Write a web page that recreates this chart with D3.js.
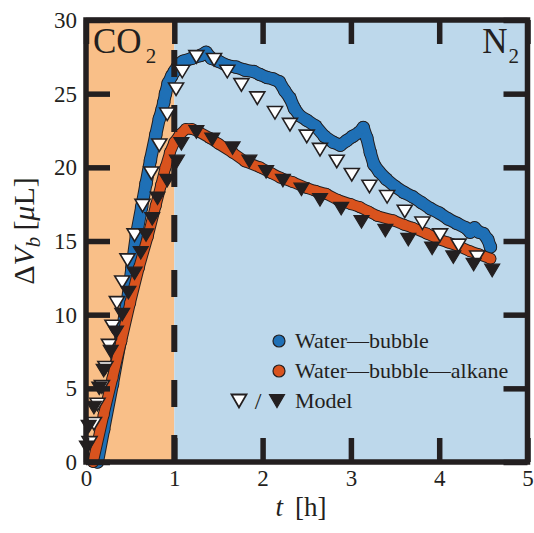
<!DOCTYPE html>
<html>
<head>
<meta charset="utf-8">
<script src="https://cdn.jsdelivr.net/npm/d3@7"></script>
<style>
  html, body { margin: 0; padding: 0; background: #fff; }
  svg { display: block; }
</style>
</head>
<body>
<div id="chart"></div>
<script>
// ---- data ----
const xTicks = [0, 1, 2, 3, 4, 5];
const yTicks = [0, 5, 10, 15, 20, 25, 30];
const gasLabels = ["CO", "N"];
const legendLabels = ["Water\u2014bubble", "Water\u2014bubble\u2014alkane", "Model"];

// experiment: water-bubble (t [h], ΔV [µL])
const bubbleT = [0.13,0.2,0.3,0.4,0.47,0.52,0.57,0.63,0.68,0.73,0.79,0.83,0.86,0.88,0.9,0.93,0.97,1.0,1.05,1.1,1.2,1.3,1.36,1.42,1.5,1.6,1.7,1.8,1.9,1.97,2.05,2.12,2.19,2.25,2.31,2.36,2.42,2.5,2.6,2.7,2.8,2.88,2.95,3.02,3.1,3.14,3.18,3.22,3.26,3.32,3.4,3.5,3.6,3.7,3.8,3.9,4.0,4.1,4.2,4.3,4.35,4.4,4.45,4.5,4.55,4.58];
const bubbleV = [0.0,2.2,5.3,8.6,11.0,13.2,15.4,17.3,18.9,20.5,22.2,23.3,23.9,24.4,25.0,25.7,26.2,26.5,27.0,27.2,27.4,27.6,27.8,27.4,27.2,26.9,26.8,26.6,26.5,26.3,26.1,26.0,25.8,25.2,24.7,24.0,23.5,23.2,22.8,22.1,21.7,21.5,21.8,22.1,22.4,22.7,22.0,21.0,20.2,19.7,19.2,18.7,18.3,18.0,17.6,17.2,16.9,16.5,16.2,15.9,15.6,15.9,15.6,15.5,15.1,14.6];

// experiment: water-bubble-alkane
const alkaneT = [0.08,0.2,0.3,0.4,0.5,0.6,0.7,0.79,0.85,0.9,0.95,1.0,1.06,1.13,1.2,1.28,1.4,1.5,1.66,1.8,1.97,2.1,2.2,2.34,2.5,2.6,2.72,2.85,3.0,3.1,3.2,3.3,3.48,3.6,3.7,3.86,4.0,4.1,4.24,4.35,4.45,4.58];
const alkaneV = [0.0,3.2,5.7,8.2,10.8,13.2,15.3,17.4,18.8,20.0,21.0,21.7,22.2,22.6,22.6,22.4,22.0,21.6,21.0,20.4,20.0,19.6,19.3,19.0,18.6,18.4,18.2,17.8,17.5,17.3,17.0,16.7,16.4,16.1,15.9,15.5,15.1,14.9,14.6,14.3,14.1,13.8];

// model: water-bubble (open triangles)
const modelBubbleT = [0.04,0.09,0.13,0.18,0.22,0.26,0.30,0.35,0.41,0.47,0.55,0.64,0.74,0.83,0.92,1.02,1.09,1.25,1.45,1.60,1.76,1.94,2.14,2.31,2.50,2.65,2.84,3.01,3.21,3.41,3.61,3.81,4.01,4.22,4.43];
const modelBubbleV = [1.3,2.6,3.9,5.1,6.4,7.9,9.2,10.8,12.2,13.7,15.4,17.4,19.6,21.5,23.6,25.3,26.5,27.5,27.3,26.5,25.6,24.7,23.7,22.9,22.1,21.2,20.4,19.5,18.7,18.0,17.0,16.2,15.4,14.7,13.9];

// model: water-bubble-alkane (filled triangles)
const modelAlkaneT = [0.01,0.03,0.09,0.15,0.20,0.28,0.34,0.41,0.48,0.55,0.62,0.68,0.75,0.81,0.92,1.03,1.08,1.25,1.43,1.66,1.85,2.04,2.23,2.44,2.65,2.89,3.12,3.39,3.65,3.92,4.16,4.39,4.60];
const modelAlkaneV = [1.0,2.4,3.7,5.0,6.2,7.5,8.8,10.0,11.5,12.8,14.2,15.4,16.5,17.9,19.1,20.4,21.6,22.4,21.9,21.3,20.4,19.7,19.1,18.5,17.8,17.2,16.3,15.7,15.1,14.5,13.9,13.4,13.0];

// ---- layout / style ----
const W = 534, H = 533;
const ink = "#231f20";
const blue = "#1f70b6", orange = "#d9531e";
const bgOrange = "#f9bf88", bgBlue = "#bdd8eb";
const serif = "'Liberation Serif', 'Times New Roman', serif";

const svg = d3.select("#chart").append("svg").attr("width", W).attr("height", H);

const x = d3.scaleLinear().domain([0, 5]).range([86, 527.5]);
const y = d3.scaleLinear().domain([0, 30]).range([462, 20]);

// background regions
svg.append("rect").attr("x", x(0)).attr("y", y(30)).attr("width", x(1) - x(0)).attr("height", y(0) - y(30)).attr("fill", bgOrange);
svg.append("rect").attr("x", x(1)).attr("y", y(30)).attr("width", x(5) - x(1)).attr("height", y(0) - y(30)).attr("fill", bgBlue);

// experimental bands
function band(ts, vs, color, wid) {
  const pts = ts.map((t, i) => [t, vs[i]]);
  const line = d3.line().x(d => x(d[0])).y(d => y(d[1]));
  const g = svg.append("g");
  g.append("path").attr("d", line(pts)).attr("fill", "none").attr("stroke", ink)
    .attr("stroke-width", wid + 2).attr("stroke-linejoin", "round").attr("stroke-linecap", "round");
  g.selectAll("circle.o").data(pts).join("circle").attr("class", "o")
    .attr("cx", d => x(d[0])).attr("cy", d => y(d[1])).attr("r", wid / 2 + 1.3).attr("fill", ink);
  g.append("path").attr("d", line(pts)).attr("fill", "none").attr("stroke", color)
    .attr("stroke-width", wid).attr("stroke-linejoin", "round").attr("stroke-linecap", "round");
  g.selectAll("circle.f").data(pts).join("circle").attr("class", "f")
    .attr("cx", d => x(d[0])).attr("cy", d => y(d[1])).attr("r", wid / 2 + 0.3).attr("fill", color);
}
band(bubbleT, bubbleV, blue, 11);
band(alkaneT, alkaneV, orange, 9.5);

// dashed switch line at t = 1
svg.append("line").attr("x1", x(1)).attr("x2", x(1)).attr("y1", y(0)).attr("y2", y(30))
  .attr("stroke", ink).attr("stroke-width", 6).attr("stroke-dasharray", "27 28");

// model triangles
function tri(cx, cy, w, h) {
  return `M${cx - w / 2},${cy - h / 2}L${cx + w / 2},${cy - h / 2}L${cx},${cy + h / 2}Z`;
}
svg.append("g").selectAll("path").data(modelBubbleT.map((t, i) => [t, modelBubbleV[i]])).join("path")
  .attr("d", d => tri(x(d[0]), y(d[1]), 15, 12.5))
  .attr("fill", "#fff").attr("stroke", ink).attr("stroke-width", 1.6).attr("stroke-linejoin", "miter");
svg.append("g").selectAll("path").data(modelAlkaneT.map((t, i) => [t, modelAlkaneV[i]])).join("path")
  .attr("d", d => tri(x(d[0]), y(d[1]), 15, 12.5))
  .attr("fill", ink).attr("stroke", ink).attr("stroke-width", 1.2);

// axes with inward ticks
const tickLen = 24;
function styleAxis(g) {
  g.attr("font-family", serif);
  g.select(".domain").remove();
  g.selectAll(".tick line").attr("stroke", ink).attr("stroke-width", 5.5);
  g.selectAll(".tick text").attr("fill", ink).style("font-family", serif).style("font-size", "23px");
}
svg.append("g").attr("transform", `translate(${x(0)},0)`)
  .call(d3.axisLeft(y).tickValues(yTicks).tickSize(-tickLen).tickPadding(9).tickFormat(d3.format("d")))
  .call(styleAxis);
svg.append("g").attr("transform", `translate(${x(5)},0)`)
  .call(d3.axisRight(y).tickValues(yTicks).tickSize(-tickLen).tickFormat(""))
  .call(styleAxis);
svg.append("g").attr("transform", `translate(0,${y(0)})`)
  .call(d3.axisBottom(x).tickValues(xTicks).tickSize(-tickLen).tickPadding(8).tickFormat(d3.format("d")))
  .call(styleAxis);
svg.append("g").attr("transform", `translate(0,${y(30)})`)
  .call(d3.axisTop(x).tickValues(xTicks).tickSize(-tickLen).tickFormat(""))
  .call(styleAxis);

// frame
svg.append("rect").attr("x", x(0)).attr("y", y(30)).attr("width", x(5) - x(0)).attr("height", y(0) - y(30))
  .attr("fill", "none").attr("stroke", ink).attr("stroke-width", 5.5);

// gas labels
const co = svg.append("text").attr("x", 93).attr("y", 53).attr("fill", ink)
  .style("font-family", serif).style("font-size", "35px");
co.append("tspan").text(gasLabels[0]);
co.append("tspan").attr("dx", 4).attr("dy", 10).style("font-size", "21px").text("2");
const n2 = svg.append("text").attr("x", 519).attr("y", 53).attr("text-anchor", "end").attr("fill", ink)
  .style("font-family", serif).style("font-size", "35px");
n2.append("tspan").text(gasLabels[1]);
n2.append("tspan").attr("dx", 1).attr("dy", 10).style("font-size", "21px").text("2");

// axis titles
const xl = svg.append("text").attr("x", 301).attr("y", 516).attr("text-anchor", "middle").attr("fill", ink)
  .style("font-family", serif).style("font-size", "27px");
xl.append("tspan").style("font-style", "italic").text("t");
xl.append("tspan").text("\u2009 [h]");

const yl = svg.append("text").attr("transform", "translate(34,231) rotate(-90)").attr("text-anchor", "middle")
  .attr("fill", ink).style("font-family", serif).style("font-size", "30px");
yl.append("tspan").text("\u0394");
yl.append("tspan").style("font-style", "italic").text("V");
yl.append("tspan").style("font-style", "italic").style("font-size", "21px").attr("dy", 6).text("b");
yl.append("tspan").attr("dy", -6).text("\u2009[");
yl.append("tspan").style("font-style", "italic").text("\u03bc");
yl.append("tspan").text("L]");

// legend
const lg = svg.append("g");
const legendRows = [
  { label: legendLabels[0], color: blue, yy: 341 },
  { label: legendLabels[1], color: orange, yy: 371 }
];
legendRows.forEach(r => {
  lg.append("circle").attr("cx", 279).attr("cy", r.yy).attr("r", 6).attr("fill", r.color)
    .attr("stroke", ink).attr("stroke-width", 1.2);
  lg.append("text").attr("x", 295).attr("y", r.yy + 7).attr("fill", ink)
    .style("font-family", serif).style("font-size", "22px").text(r.label);
});
lg.append("path").attr("d", tri(239, 401, 15, 13)).attr("fill", "#fff").attr("stroke", ink).attr("stroke-width", 1.8);
lg.append("text").attr("x", 258).attr("y", 409).attr("text-anchor", "middle").attr("fill", ink)
  .style("font-family", serif).style("font-size", "24px").text("/");
lg.append("path").attr("d", tri(277, 401, 15, 13)).attr("fill", ink).attr("stroke", ink).attr("stroke-width", 1.2);
lg.append("text").attr("x", 295).attr("y", 408).attr("fill", ink)
  .style("font-family", serif).style("font-size", "22px").text(legendLabels[2]);
</script>
</body>
</html>
